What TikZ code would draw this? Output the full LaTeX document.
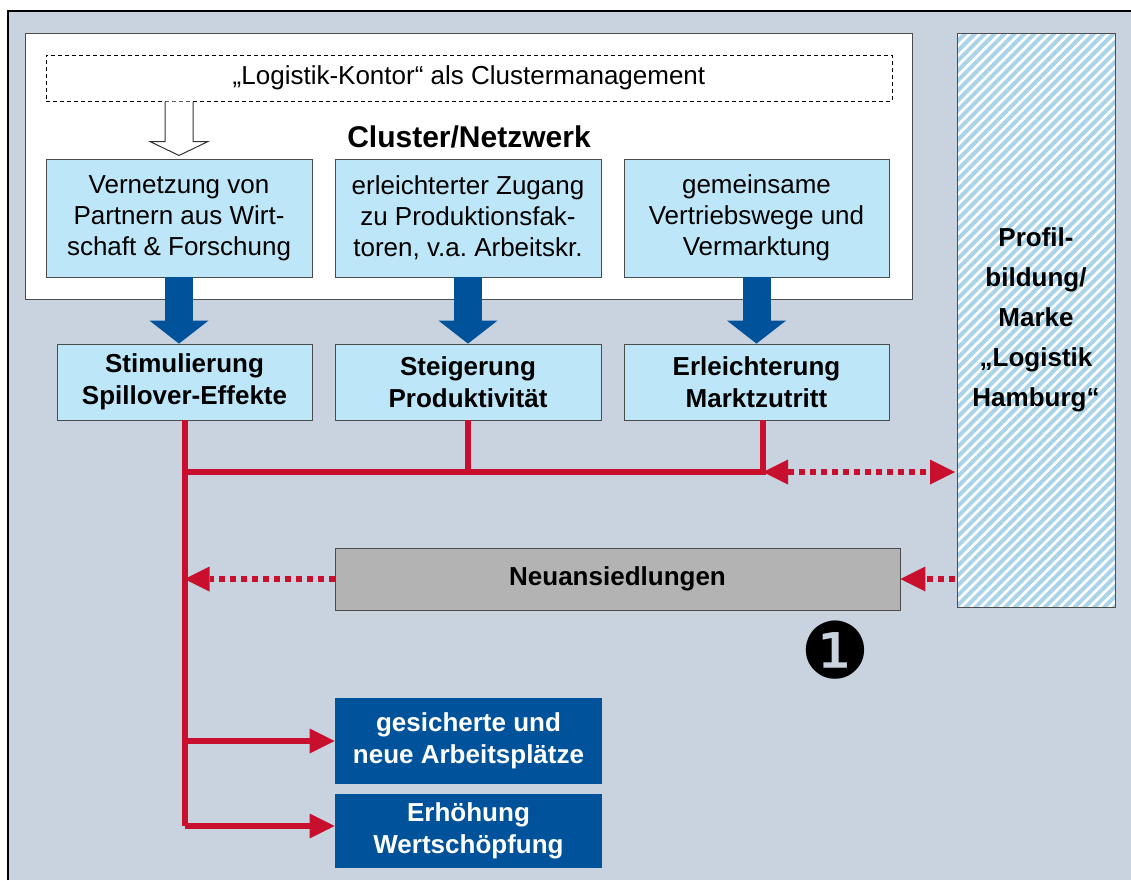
\documentclass[tikz,border=0pt]{standalone}
\usepackage{fontspec}
\setmainfont{Liberation Sans}
\newfontfamily\dingfont{DejaVu Sans}
\usetikzlibrary{arrows.meta, patterns.meta}
\frenchspacing

\definecolor{bgblue}{HTML}{C9D3DF}
\definecolor{lightblue}{HTML}{BDE6F8}
\definecolor{darkblue}{HTML}{00529B}
\definecolor{darkred}{HTML}{C8102E}
\definecolor{hatchblue}{HTML}{A9D3E8}
\definecolor{boxgray}{HTML}{B3B3B3}

\begin{document}
\begin{tikzpicture}[x=.5pt, y=-.5pt,
    every node/.style={font=\fontsize{13}{15.5}\selectfont, inner sep=0pt, align=center},
    box/.style={draw=black!70, fill=lightblue, minimum width=133pt, minimum height=59pt},
    res/.style={box, font=\fontsize{13}{16}\selectfont\bfseries, minimum height=38pt},
    result/.style={fill=darkblue, text=white, font=\fontsize{13}{16}\selectfont\bfseries, minimum width=133.5pt},
    profil/.style={draw=black!70, preaction={fill=white}, pattern={Lines[angle=45, distance=3.5pt, line width=2pt]},
      pattern color=hatchblue, minimum width=79pt, minimum height=287pt, font=\fontsize{13}{20}\selectfont\bfseries},
    bluearrow/.style={draw=darkblue, line width=14pt, -{Triangle[length=11.5pt, width=29.5pt, line width=0pt]}},
    redline/.style={draw=darkred, line width=3pt},
    reddot/.style={redline, dash pattern=on 3pt off 2.5pt},
    >={Triangle[length=12.5pt, width=12.5pt, line width=0pt]}]
    \useasboundingbox (0,0) rectangle (1131,880);
    \fill [bgblue] (8,11) rectangle (1131,880);
    \draw [line width=1pt] (8,880) -- (8,11) -- (1131,11);

    \node [draw=black!70, fill=white, minimum width=443.5pt, minimum height=133pt] (cluster) at (468.5,166) {};
    \node [draw, line width=.5pt, dash pattern=on 2pt off 1.5pt, minimum width=423pt, minimum height=23pt] (kontor) at (469,78) {„Logistik-Kontor“ als Clustermanagement};
    \node [font=\fontsize{15}{18}\selectfont\bfseries] (title) at (469,137) {Cluster/Netzwerk};
    \node [box] (vernetzung) at (179,218) {Vernetzung von\\Partnern aus Wirt-\\schaft \& Forschung};
    \node [box] (zugang) at (468,218) {erleichterter Zugang\\zu Produktionsfak-\\toren, v.a. Arbeitskr.};
    \node [box, minimum width=132.5pt] (vertrieb) at (756.5,218) {gemeinsame\\Vertriebswege und\\Vermarktung};
    \node [res, minimum width=127.5pt] (spillover) at (184.5,382) {Stimulierung\\Spillover-Effekte};
    \node [res] (produktiv) at (468,382) {Steigerung\\Produktivität};
    \node [res, minimum width=132.5pt] (markt) at (756.5,382) {Erleichterung\\Marktzutritt};
    \node [profil] (marke) at (1036,320) {Profil-\\bildung/\\Marke\\„Logistik\\Hamburg“};
    \node [draw=black!70, fill=boxgray, font=\fontsize{13}{16}\selectfont\bfseries, minimum width=282.5pt, minimum height=31pt] (neu) at (617.5,579) {Neuansiedlungen};
    \node [result, minimum height=43pt] (arbeit) at (468.5,741) {gesicherte und\\neue Arbeitsplätze};
    \node [result, minimum height=37pt] (wert) at (468.5,831) {Erhöhung\\Wertschöpfung};
    \node [font=\dingfont\fontsize{39}{39}\selectfont] (eins) at (835,650) {❶};

    \draw [draw=black!80, fill=white, line width=.5pt] (kontor.south -| vernetzung) ++(-14,0) -- ++(0,40) -- ++(-15,0) -- ++(29,14) -- ++(29,-14) -- ++(-15,0) -- ++(0,-40);
    \draw [bluearrow] (vernetzung.south) -- (vernetzung.south |- spillover.north);
    \draw [bluearrow] (zugang.south) -- (produktiv.north);
    \draw [bluearrow] (vertrieb.south) -- (markt.north);

    \coordinate (knot) at (763,472);
    \coordinate (ende) at (185,826);
    \draw [redline] (spillover.south) -- (spillover.south |- ende);
    \draw [redline] (spillover.south |- knot) -- (knot) -- (markt.south -| knot);
    \draw [redline] (produktiv.south) -- (produktiv.south |- knot);
    \draw [redline, ->] (spillover.south |- arbeit) -- (arbeit.west);
    \draw [redline, ->] (spillover.south |- ende) -- (ende -| wert.west);
    \draw [reddot, <->] (knot) -- (knot -| marke.west);
    \draw [reddot, ->] (marke.west |- neu) -- (neu.east);
    \draw [reddot, ->] (neu.west) -- (neu.west -| spillover.south);
  \end{tikzpicture}
\end{document}
